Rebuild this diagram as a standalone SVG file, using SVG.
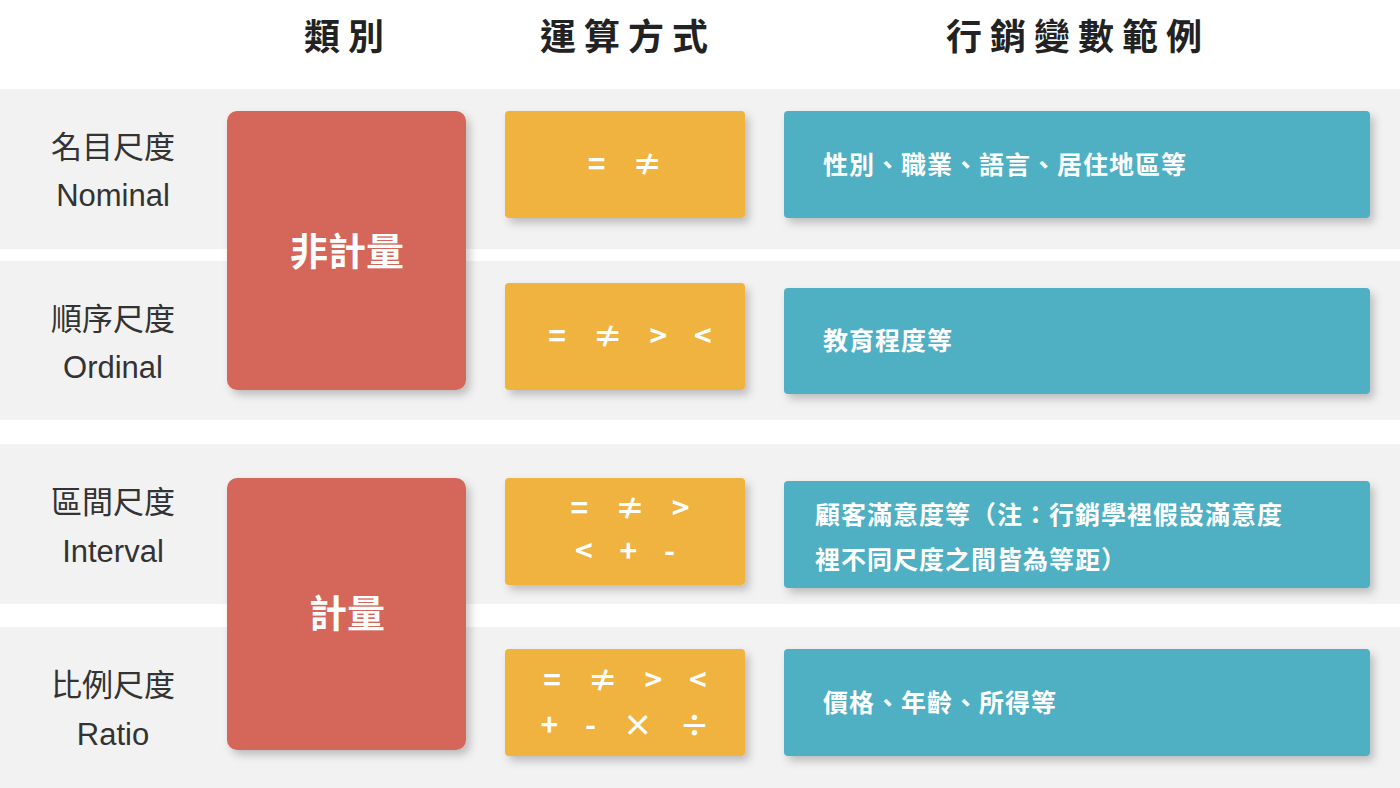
<svg xmlns="http://www.w3.org/2000/svg" width="1400" height="788" viewBox="0 0 1400 788">
<defs>
<filter id="sh" x="-10%" y="-10%" width="130%" height="130%"><feDropShadow dx="4" dy="5" stdDeviation="4" flood-color="#000" flood-opacity="0.22"/></filter>
</defs>
<style>
.band{fill:#f2f2f2}
.red{fill:#d4665a}
.yel{fill:#f0b340}
.blu{fill:#50afc3}
.hd{font-family:"Noto Sans CJK TC",sans-serif;font-size:36px;font-weight:bold;fill:#222;text-anchor:middle;letter-spacing:8px}
.lb{font-family:"Noto Sans CJK TC",sans-serif;font-size:31px;fill:#333;text-anchor:middle}
.en{font-family:"Liberation Sans",sans-serif;font-size:31px;fill:#333;text-anchor:middle}
.big{font-family:"Noto Sans CJK TC",sans-serif;font-size:38px;font-weight:bold;fill:#fff;text-anchor:middle}
.op{font-family:"Noto Sans CJK TC",sans-serif;font-size:30px;font-weight:bold;fill:#fff;text-anchor:middle;letter-spacing:10px}
.ex{font-family:"Noto Sans CJK TC",sans-serif;font-size:25px;font-weight:bold;fill:#fff;letter-spacing:1px}
</style>
<rect width="1400" height="788" fill="#fff"/>
<rect class="band" x="0" y="89" width="1400" height="160"/>
<rect class="band" x="0" y="261" width="1400" height="159"/>
<rect class="band" x="0" y="444" width="1400" height="160"/>
<rect class="band" x="0" y="627" width="1400" height="161"/>
<g id="headers">
<text class="hd" x="348" y="50">類別</text>
<text class="hd" x="628" y="50">運算方式</text>
<text class="hd" x="1078" y="50">行銷變數範例</text>
</g>
<g id="labels">
<text class="lb" x="113" y="158">名目尺度</text><text class="en" x="113" y="206">Nominal</text>
<text class="lb" x="113" y="330">順序尺度</text><text class="en" x="113" y="378">Ordinal</text>
<text class="lb" x="113" y="513">區間尺度</text><text class="en" x="113" y="562">Interval</text>
<text class="lb" x="113" y="696">比例尺度</text><text class="en" x="113" y="745">Ratio</text>
</g>
<g id="non-metric"><rect class="red" x="227" y="111" width="239" height="279" rx="10" filter="url(#sh)"/><text class="big" x="347" y="265">非計量</text></g>
<g id="metric"><rect class="red" x="227" y="478" width="239" height="272" rx="10" filter="url(#sh)"/><text class="big" x="347" y="627">計量</text></g>
<g id="op1"><rect class="yel" x="505" y="111" width="240" height="107" rx="4" filter="url(#sh)"/><text class="op" x="630" y="175">= ≠</text></g>
<g id="op2"><rect class="yel" x="505" y="283" width="240" height="107" rx="4" filter="url(#sh)"/><text class="op" x="635" y="347">= ≠ &gt; &lt;</text></g>
<g id="op3"><rect class="yel" x="505" y="478" width="240" height="107" rx="4" filter="url(#sh)"/><text class="op" x="635" y="519">= ≠ &gt;</text><text class="op" x="630" y="562">&lt; + -</text></g>
<g id="op4"><rect class="yel" x="505" y="649" width="240" height="107" rx="4" filter="url(#sh)"/><text class="op" x="630" y="691">= ≠ &gt; &lt;</text><text class="op" x="630" y="736">+ - × ÷</text></g>
<g id="ex1"><rect class="blu" x="784" y="111" width="586" height="107" rx="4" filter="url(#sh)"/><text class="ex" x="823" y="174">性別、職業、語言、居住地區等</text></g>
<g id="ex2"><rect class="blu" x="784" y="288" width="586" height="106" rx="4" filter="url(#sh)"/><text class="ex" x="823" y="350">教育程度等</text></g>
<g id="ex3"><rect class="blu" x="784" y="481" width="586" height="107" rx="4" filter="url(#sh)"/><text class="ex" x="815" y="524">顧客滿意度等（注：行銷學裡假設滿意度</text><text class="ex" x="815" y="569">裡不同尺度之間皆為等距）</text></g>
<g id="ex4"><rect class="blu" x="784" y="649" width="586" height="107" rx="4" filter="url(#sh)"/><text class="ex" x="823" y="712">價格、年齡、所得等</text></g>
<g id="connectors"/>
</svg>
